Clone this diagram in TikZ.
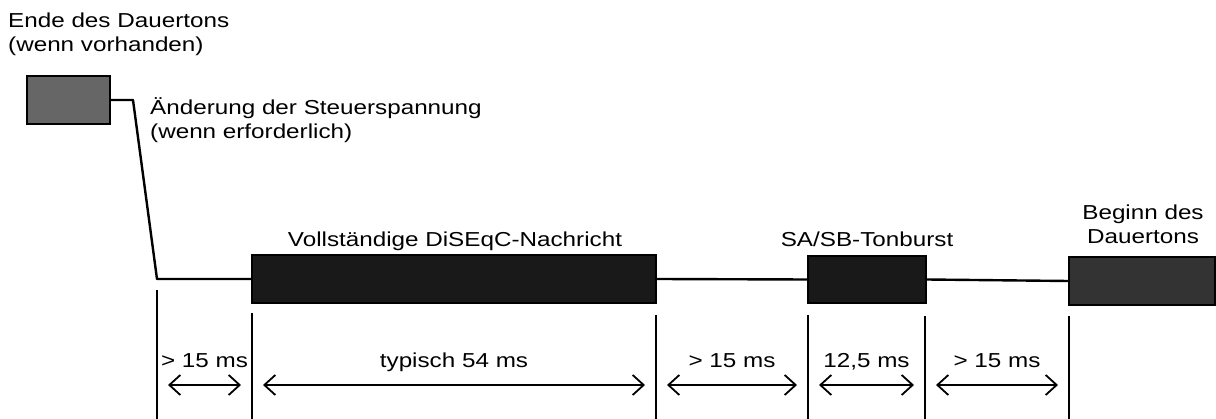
\documentclass[tikz,border=0pt]{standalone}
\usepackage{fontspec}
\setmainfont{Liberation Sans}[FakeStretch=1.2]
\usetikzlibrary{arrows.meta,positioning}

\begin{document}
\begin{tikzpicture}[x=1pt,y=-1pt,
  font=\fontsize{20.2}{24}\selectfont,
  burst/.style={draw,line width=1.4pt,inner sep=0pt,fill=black!#1},
  trace/.style={line width=2.4pt,line join=round},
  tick/.style={line width=1.6pt},
  dim/.style={line width=1.8pt,{Straight Barb[length=11pt,width=20pt]}-{Straight Barb[length=11pt,width=20pt]}},
  lbl/.style={inner sep=0pt}]
\useasboundingbox (0,0) rectangle (1216,419);

% signal blocks
\node[burst=60,minimum width=83pt,minimum height=48pt] (endtone) at (68.5,100) {};
\node[burst=90,minimum width=404pt,minimum height=48pt] (msg) at (454,279) {};
\node[burst=90,minimum width=118pt,minimum height=47pt] (sasb) at (867,279.5) {};
\node[burst=80,minimum width=146pt,minimum height=48pt] (begintone) at (1142,281) {};

% trace between the blocks
\coordinate (bend1) at (133,100);
\coordinate (bend2) at (157,279);
\draw[trace] (endtone.east) -- (bend1) -- (bend2) -- (msg.west);
\draw[trace] (msg.east) -- (sasb.west);
\draw[trace] (sasb.east) -- (begintone.west);

% texts
\node[lbl,align=left,anchor=north west] (endlbl) at (8,13) {Ende des Dauertons\\(wenn vorhanden)};
\node[lbl,align=left,anchor=north west] (changelbl) at (150,97) {Änderung der Steuerspannung\\(wenn erforderlich)};
\node[lbl,anchor=base] (msglbl) at (455,247) {Vollständige DiSEqC-Nachricht};
\node[lbl,anchor=base] (sasblbl) at (867,247) {SA/SB-Tonburst};
\node[lbl,align=center,anchor=north] (beginlbl) at (1143,205) {Beginn des\\Dauertons};

% time marks
\foreach \x/\top [count=\i] in {157/290,252/313,656/315,808/315,925/316,1069/316}{
  \coordinate (tt\i) at (\x,\top);
  \coordinate (tb\i) at (\x,419);
  \coordinate (ta\i) at (\x,385);
  \draw[tick] (tt\i) -- (tb\i);
}
\foreach \a/\b/\txt in {1/2/{> 15 ms},2/3/{typisch 54 ms},3/4/{> 15 ms},4/5/{12,5 ms},5/6/{> 15 ms}}
  \draw[dim,shorten <=11pt,shorten >=11pt] (ta\a) -- node[lbl,anchor=base,yshift=17pt] (dl\a) {\txt} (ta\b);
\end{tikzpicture}
\end{document}
